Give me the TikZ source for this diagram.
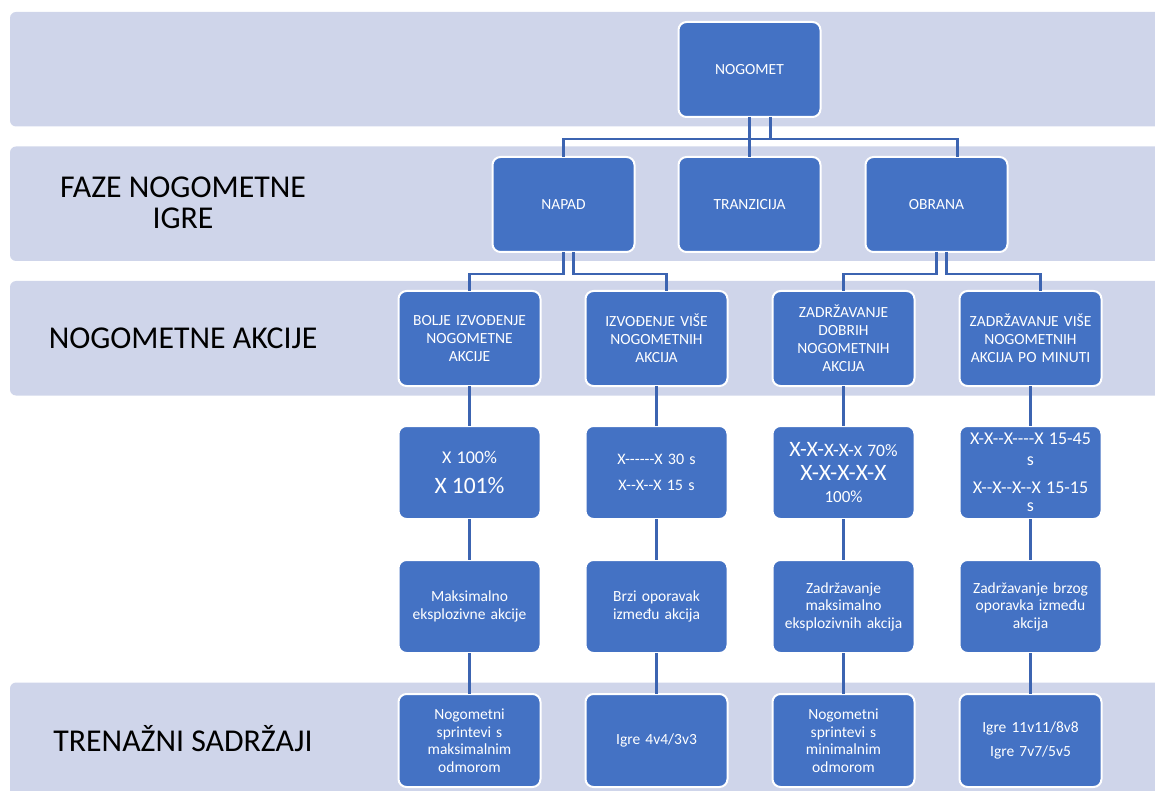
\documentclass[tikz,border=0pt]{standalone}
\usepackage{fontspec}
\setmainfont{Carlito}[Ligatures=TeXOff]
\usetikzlibrary{positioning}

\definecolor{bandblue}{HTML}{CFD5EA}
\definecolor{boxblue}{HTML}{4472C4}
\definecolor{lineblue}{HTML}{3C64B1}

\begin{document}
\begin{tikzpicture}[x=1pt,y=1pt]
\useasboundingbox (0,0) rectangle (1155,-791);
\begin{scope}
\clip (0,0) rectangle (1155,-791);

\tikzstyle{bandnode} = [minimum width=1170pt,minimum height=114.5pt,fill=bandblue,rounded corners=6pt,inner sep=0pt,outer sep=0pt];
\tikzstyle{labelnode} = [align=center,text=black,font=\fontsize{31.8}{31}\selectfont];
\tikzstyle{boxnode} = [minimum width=142pt,minimum height=95pt,text width=136pt,align=center,draw=white,line width=2pt,fill=boxblue,rounded corners=8pt,text=white,inner sep=1pt,outer sep=0pt,font=\fontsize{15.5}{18}\selectfont];
\tikzstyle{lownode} = [boxnode,minimum height=93pt,font=\fontsize{15.5}{17.5}\selectfont];
\tikzstyle{linknode} = [draw=lineblue,line width=2.4pt];

% bands with their titles
\node [bandnode,anchor=north west] (b1) at (10,-12) {};
\node [bandnode,anchor=north] (b2) at ([yshift=-20pt]b1.south) {};
\node [bandnode,anchor=north] (b3) at ([yshift=-20pt]b2.south) {};
\node [bandnode,anchor=north] (b4) at ([yshift=-287pt]b3.south) {};

\node [labelnode] (l2) at ([xshift=173pt,yshift=1pt]b2.west) {FAZE NOGOMETNE\\IGRE};
\node [labelnode] (l3) at ([xshift=173pt]b3.west) {NOGOMETNE AKCIJE};
\node [labelnode] (l4) at ([xshift=173pt,yshift=1pt]b4.west) {TRENAŽNI SADRŽAJI};

% top and phases
\node [boxnode,anchor=north] (n1) at (749.5,-22) {NOGOMET};
\node [boxnode,anchor=north] (p2) at ([yshift=-40pt]n1.south) {TRANZICIJA};
\node [boxnode,anchor=east] (p1) at ([xshift=-44pt]p2.west) {NAPAD};
\node [boxnode,anchor=west] (p3) at ([xshift=45pt]p2.east) {OBRANA};

% actions
\node [boxnode,anchor=north] (a1) at ([xshift=-94pt,yshift=-39pt]p1.south) {BOLJE IZVOĐENJE\\NOGOMETNE\\AKCIJE};
\node [boxnode,anchor=west] (a2) at ([xshift=45pt]a1.east) {IZVOĐENJE VIŠE\\NOGOMETNIH\\AKCIJA};
\node [boxnode,anchor=west] (a3) at ([xshift=45pt]a2.east) {ZADRŽAVANJE\\DOBRIH\\NOGOMETNIH\\AKCIJA};
\node [boxnode,anchor=west] (a4) at ([xshift=45pt]a3.east) {ZADRŽAVANJE VIŠE\\NOGOMETNIH\\AKCIJA PO MINUTI};

% intensities
\node [lownode,anchor=north] (x1) at ([yshift=-40pt]a1.south) {{\fontsize{18}{18}\selectfont X 100\%}\\[12pt]{\fontsize{23.5}{24}\selectfont X 101\%}};
\node [lownode,anchor=north] (x2) at ([yshift=-40pt]a2.south) {{\fontsize{16}{16}\selectfont X------X 30 s\\[8pt]X--X--X 15 s}};
\node [lownode,anchor=north] (x3) at ([yshift=-40pt]a3.south) {{\fontsize{22}{24}\selectfont X-X-}{\fontsize{19}{24}\selectfont X-X-}{\fontsize{16}{24}\selectfont X}{\fontsize{17.5}{24}\selectfont{} 70\%}\\[7pt]{\fontsize{23.5}{24}\selectfont X-X-X-X-X}\\[4pt]{\fontsize{17}{20}\selectfont 100\%}};
\node [lownode,anchor=north] (x4) at ([yshift=-40pt]a4.south) {{\fontsize{18}{21}\selectfont X-X--X----X 15-45\\s\\[7pt]X--X--X--X 15-15\\s}};

% goals
\node [lownode,anchor=north] (c1) at ([yshift=-41pt]x1.south) {Maksimalno\\eksplozivne akcije};
\node [lownode,anchor=north] (c2) at ([yshift=-41pt]x2.south) {Brzi oporavak\\između akcija};
\node [lownode,anchor=north] (c3) at ([yshift=-41pt]x3.south) {Zadržavanje\\maksimalno\\eksplozivnih akcija};
\node [lownode,anchor=north] (c4) at ([yshift=-41pt]x4.south) {Zadržavanje brzog\\oporavka između\\akcija};

% training contents
\node [lownode,anchor=north] (t1) at ([yshift=-41pt]c1.south) {Nogometni\\sprintevi s\\maksimalnim\\odmorom};
\node [lownode,anchor=north] (t2) at ([yshift=-41pt]c2.south) {Igre 4v4/3v3};
\node [lownode,anchor=north] (t3) at ([yshift=-41pt]c3.south) {Nogometni\\sprintevi s\\minimalnim\\odmorom};
\node [lownode,anchor=north] (t4) at ([yshift=-41pt]c4.south) {Igre 11v11/8v8\\[7pt]Igre 7v7/5v5};

% connectors
\draw [linknode] (n1.south) -- (p2.north);
\draw [linknode] ([xshift=21pt]n1.south) -- ++(0,-22);
\draw [linknode] (p1.north) -- ++(0,18) -| ([xshift=21pt]p3.north);

\draw [linknode] (p1.south) -- ++(0,-22) -| (a1.north);
\draw [linknode] ([xshift=10pt]p1.south) -- ++(0,-22) -| ([xshift=10pt]a2.north);
\draw [linknode] (p3.south) -- ++(0,-22) -| (a3.north);
\draw [linknode] ([xshift=10pt]p3.south) -- ++(0,-22) -| ([xshift=10pt]a4.north);

\draw [linknode] (a1.south) -- (x1.north);
\draw [linknode] (a2.south) -- (x2.north);
\draw [linknode] (a3.south) -- (x3.north);
\draw [linknode] (a4.south) -- (x4.north);
\draw [linknode] (x1.south) -- (c1.north);
\draw [linknode] (x2.south) -- (c2.north);
\draw [linknode] (x3.south) -- (c3.north);
\draw [linknode] (x4.south) -- (c4.north);
\draw [linknode] (c1.south) -- (t1.north);
\draw [linknode] (c2.south) -- (t2.north);
\draw [linknode] (c3.south) -- (t3.north);
\draw [linknode] (c4.south) -- (t4.north);

\end{scope}
\end{tikzpicture}
\end{document}
